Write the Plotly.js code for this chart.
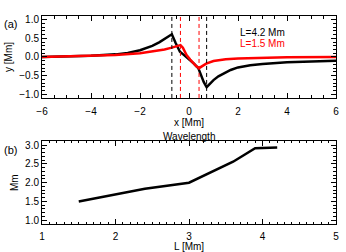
<!DOCTYPE html>
<html><head><meta charset="utf-8">
<script src="https://cdn.plot.ly/plotly-3.0.1.min.js"></script>
<style>html,body{margin:0;padding:0;background:#fff}#c{width:346px;height:252px}</style>
</head><body><div id="c"></div>
<script>
// Panel (a): profiles
const xBlack = [-6,-5,-4,-3,-2.5,-2,-1.5,-1.2,-1.0,-0.85,-0.7,-0.55,-0.37,-0.2,0.0,0.2,0.38,0.5,0.6,0.72,0.85,1.0,1.2,1.4,1.7,2.0,2.5,3.0,3.5,4.0,5.0,6.0];
const yBlack = [0.0,0.01,0.03,0.07,0.11,0.18,0.3,0.4,0.48,0.55,0.61,0.38,0.14,0.05,-0.06,-0.18,-0.3,-0.5,-0.67,-0.81,-0.71,-0.62,-0.52,-0.45,-0.35,-0.28,-0.22,-0.19,-0.16,-0.14,-0.12,-0.1];
const xRed = [-6,-5,-4,-3,-2,-1.5,-1.0,-0.7,-0.5,-0.35,-0.25,-0.1,0.05,0.18,0.3,0.41,0.55,0.7,1.0,1.5,2.0,3.0,4.0,6.0];
const yRed = [0.0,0.01,0.03,0.05,0.1,0.14,0.2,0.25,0.29,0.32,0.25,0.05,-0.07,-0.17,-0.25,-0.3,-0.24,-0.18,-0.11,-0.06,-0.04,-0.02,-0.01,0.0];
const blackDash = [-0.7, 0.72];
const redDash = [-0.35, 0.41];
const legendLabels = ["L=4.2 Mm", "L=1.5 Mm"];
// Panel (b): wavelength vs L
const L = [1.5, 2.0, 2.4, 3.0, 3.6, 3.9, 4.2];
const wavelength = [1.5, 1.68, 1.84, 2.0, 2.56, 2.92, 2.94];

const F = {family: "Liberation Sans, Arial, sans-serif", size: 10, color: "#000"};
const traces = [
  {x: xBlack, y: yBlack, mode: "lines", line: {color: "#000", width: 2.5}, xaxis: "x", yaxis: "y"},
  {x: xRed, y: yRed, mode: "lines", line: {color: "#ff0000", width: 2.5}, xaxis: "x", yaxis: "y"},
  {x: L, y: wavelength, mode: "lines", line: {color: "#000", width: 2.5}, xaxis: "x2", yaxis: "y2"}
];
const shapes = [];
blackDash.forEach(v => shapes.push({type: "line", xref: "x", yref: "y domain", x0: v, x1: v, y0: 0, y1: 1, line: {color: "#000", width: 1, dash: "4px,3px"}}));
redDash.forEach(v => shapes.push({type: "line", xref: "x", yref: "y domain", x0: v, x1: v, y0: 0, y1: 1, line: {color: "#ff0000", width: 1, dash: "4px,3px"}}));

function ax(extra) {
  return Object.assign({
    showgrid: false, zeroline: false, showline: true, linecolor: "#000", linewidth: 1,
    mirror: "allticks", ticks: "inside", ticklen: 5, tickwidth: 1, tickcolor: "#000",
    tickfont: F, fixedrange: true
  }, extra);
}
const layout = {
  width: 346, height: 252,
  margin: {l: 42, r: 10, t: 16, b: 28},
  paper_bgcolor: "#fff", plot_bgcolor: "#fff",
  showlegend: false,
  font: F,
  xaxis: ax({range: [-6, 6], dtick: 2, tick0: -6, anchor: "y", domain: [0, 1], ticklabelstandoff: 4,
    minor: {dtick: 0.5, ticklen: 3, tickcolor: "#000", ticks: "inside"},
    title: {text: "x [Mm]", font: F, standoff: 0}}),
  yaxis: ax({range: [-1.1, 1.1], dtick: 0.5, tick0: -1, tickformat: ".1f", anchor: "x", domain: [0.606, 1],
    minor: {dtick: 0.1, ticklen: 3, tickcolor: "#000", ticks: "inside"},
    title: {text: "y [Mm]", font: F, standoff: 4}}),
  xaxis2: ax({range: [1, 5], dtick: 1, tick0: 1, anchor: "y2", domain: [0, 1], ticklabelstandoff: 3,
    minor: {dtick: 0.1, ticklen: 2, tickcolor: "#000", ticks: "inside"},
    title: {text: "L [Mm]", font: F, standoff: 3}}),
  yaxis2: ax({range: [0.9, 3.1], dtick: 0.5, tick0: 1, tickformat: ".1f", anchor: "x2", domain: [0, 0.397],
    minor: {dtick: 0.1, ticklen: 3, tickcolor: "#000", ticks: "inside"},
    title: {text: "Mm", font: F, standoff: 4}}),
  shapes: shapes,
  annotations: [
    {text: "(a)", xref: "paper", yref: "paper", x: -0.135, y: 1.0, xanchor: "left", yanchor: "top", showarrow: false, font: {family: F.family, size: 11, color: "#000"}},
    {text: "(b)", xref: "paper", yref: "paper", x: -0.135, y: 0.395, xanchor: "left", yanchor: "top", showarrow: false, font: {family: F.family, size: 11, color: "#000"}},
    {text: legendLabels[0], xref: "paper", yref: "paper", x: 0.667, y: 0.92, xanchor: "left", yanchor: "middle", showarrow: false, font: F},
    {text: legendLabels[1], xref: "paper", yref: "paper", x: 0.667, y: 0.868, xanchor: "left", yanchor: "middle", showarrow: false, font: {family: F.family, size: 10, color: "#ff0000"}},
    {text: "Wavelength", xref: "paper", yref: "paper", x: 0.5, y: 0.385, xanchor: "center", yanchor: "bottom", showarrow: false, font: F}
  ]
};
Plotly.newPlot("c", traces, layout, {displayModeBar: false, staticPlot: true});
</script></body></html>
